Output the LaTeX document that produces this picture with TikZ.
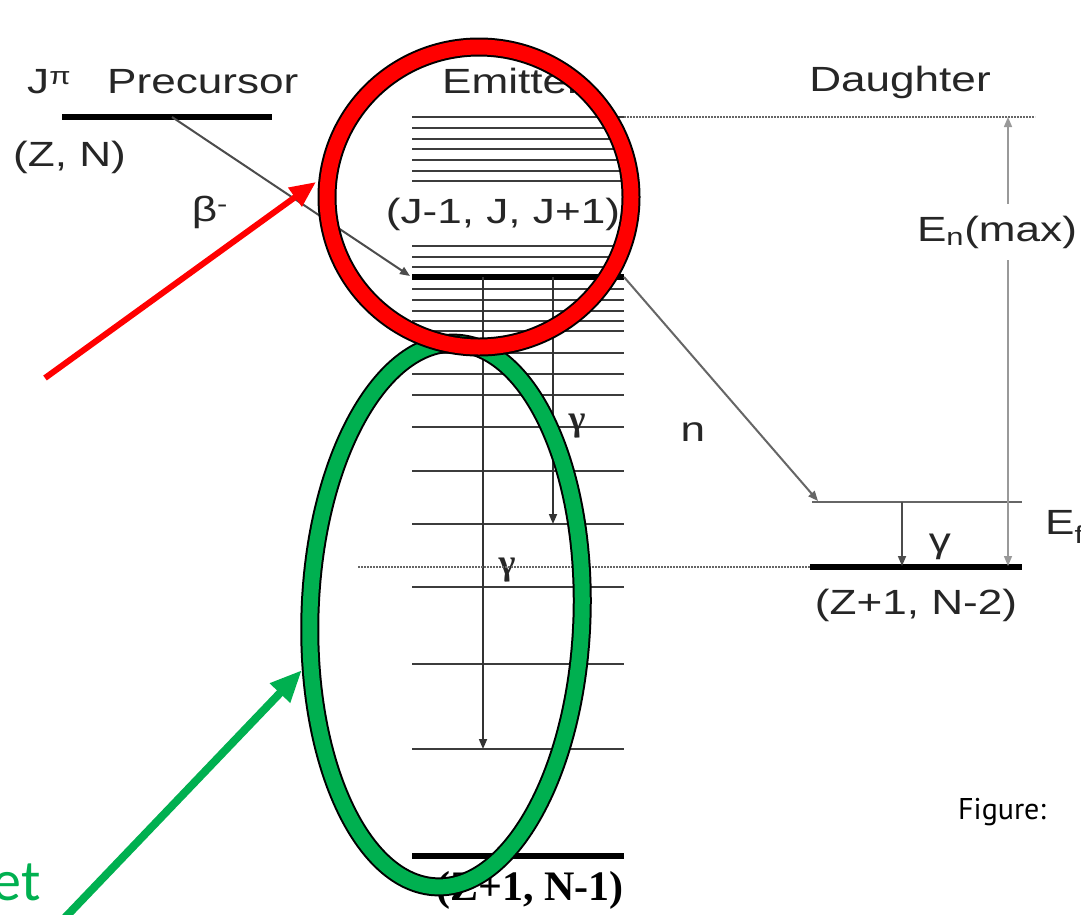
\documentclass[tikz,border=0pt]{standalone}
\usepackage{fontspec}
\setmainfont{Liberation Sans}
\newfontfamily\tnrfont{Liberation Serif}
\newfontfamily\calfont{Carlito}
\newfontfamily\handfont{PT Sans}
\usetikzlibrary{arrows.meta}
\newcommand\hs[1]{\scalebox{1.26}[1]{#1}}
\definecolor{hlred}{RGB}{255,0,0}
\definecolor{hlgreen}{RGB}{0,176,80}
\definecolor{levgray}{RGB}{60,60,60}
\tikzset{
  lab/.style={font=\fontsize{35}{40}\selectfont, inner sep=0pt, text=black!85},
  lev/.style={draw=levgray, line width=2.2pt},
  thicklev/.style={draw=black, line width=5.5pt},
  tr/.style={draw=black!70, line width=2pt, -{Triangle[length=10pt,width=8pt]}},
  dotl/.style={draw=black!60, line width=2pt, densely dotted},
}
\begin{document}
\begin{tikzpicture}[x=1pt,y=-1pt]
\useasboundingbox[fill=white] (0,0) rectangle (1081,914);
% precursor
\draw[thicklev] (62,117) -- (272,117);
\node[lab, anchor=west] (jpi) at (27,82) {\hs{J\textsuperscript{π}}};
\node[lab, anchor=west] (prec) at (107,82) {\hs{Precursor}};
\node[lab, anchor=west] (zn) at (13,157) {\hs{(Z, N)}};
\node[lab] (beta) at (210,212) {\hs{β\textsuperscript{-}}};
% emitter
\node[lab] (emit) at (512,81) {\hs{Emitter}};
\foreach \yy in {117,128,139,149,160,171,181,246,257,267,289,300,311,321,331,353,374,395,427,471,524,587,664,749}
  \draw[lev] (412,\yy) -- (624,\yy);
\draw[thicklev] (412,277) -- (624,277);
\draw[thicklev] (412,856) -- (624,856);
\node[lab] (jj) at (503,214) {\hs{(J-1, J, J+1)}};
\node[font=\tnrfont\bfseries\fontsize{42}{46}\selectfont, inner sep=0pt] (zn1) at (530,890) {(Z+1, N-1)};
\coordinate (pstart) at (172,117);
\coordinate (eleft) at (410,276);
\draw[tr] (pstart) -- (eleft);
\coordinate (g1s) at (483,277);
\coordinate (g1e) at (483,749);
\coordinate (g2s) at (553,277);
\coordinate (g2e) at (553,524);
\draw[tr, draw=black!80, line width=1.7pt] (g1s) -- (g1e);
\draw[tr, draw=black!80, line width=1.7pt] (g2s) -- (g2e);
\node[lab, font=\tnrfont\bfseries\fontsize{36}{40}\selectfont] (ga1) at (577,426) {γ};
\node[lab, font=\tnrfont\bfseries\fontsize{36}{40}\selectfont] (ga2) at (507,570) {γ};
% daughter
\node[lab] (dau) at (900,82) {\hs{Daughter}};
\draw[dotl] (624,117) -- (1035,117);
\draw[dotl] (358,567) -- (810,567);
\draw[lev, draw=black!60] (812,502) -- (1022,502);
\draw[thicklev] (810,567) -- (1022,567);
\coordinate (nstart) at (624,277);
\coordinate (nend) at (818,501);
\draw[tr, draw=black!60] (nstart) -- (nend);
\node[lab] (nlab) at (693,432) {\hs{n}};
\coordinate (dgs) at (902,502);
\coordinate (dge) at (902,566);
\draw[tr, draw=black!70, line width=1.7pt] (dgs) -- (dge);
\node[lab] (ga3) at (940,547) {\hs{γ}};
\node[lab] (zn2) at (916,605) {\hs{(Z+1, N-2)}};
\coordinate (emtop) at (1008,117);
\coordinate (embot) at (1008,566);
\draw[draw=black!40, line width=1.5pt, {Triangle[length=10pt,width=8pt]}-{Triangle[length=10pt,width=8pt]}] (embot) -- (emtop);
\node[lab, fill=white, inner ysep=12pt, inner xsep=2pt] (enmax) at (997,232) {\hs{E\textsubscript{n}(max)}};
\node[lab, anchor=west] (ef) at (1045,527) {\hs{E\textsubscript{f}}};
% figure caption fragment
\node[font=\handfont\fontsize{30}{34}\selectfont, inner sep=0pt, anchor=west] (fig) at (958,812) {Figure:};
% highlight ellipses
\draw[black, line width=19pt, rotate around={-2:(446,615)}] (446,615) ellipse [x radius=136pt, y radius=272pt];
\draw[hlgreen, line width=15pt, rotate around={-2:(446,615)}] (446,615) ellipse [x radius=136pt, y radius=272pt];
\draw[black, line width=19pt] (479,197) ellipse [x radius=152pt, y radius=150pt];
\draw[hlred, line width=15pt] (479,197) ellipse [x radius=152pt, y radius=150pt];
% pointer arrows
\coordinate (rtail) at (45,378);
\coordinate (rtip) at (316,182);
\draw[hlred, line width=6pt, -{Triangle[length=26pt,width=22pt]}] (rtail) -- (rtip);
\coordinate (gtail) at (58,925);
\coordinate (gtip) at (302,670);
\draw[hlgreen, line width=8pt, -{Triangle[length=32pt,width=26pt]}] (gtail) -- (gtip);
\node[font=\calfont\fontsize{58}{64}\selectfont, text=hlgreen, inner sep=0pt, anchor=base east] (et) at (41,900) {et};
\end{tikzpicture}
\end{document}
